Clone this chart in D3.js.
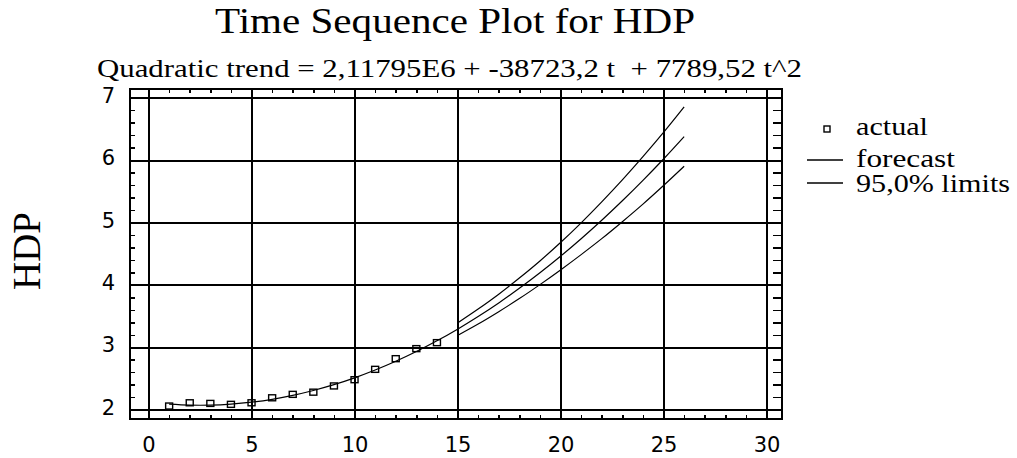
<!DOCTYPE html>
<html><head><meta charset="utf-8">
<script src="https://cdn.jsdelivr.net/npm/d3@7"></script>
<style>body{margin:0;background:#fff}svg{display:block}</style>
</head><body>
<svg id="chart" width="1017" height="458"></svg>
<script>
// ---- data ----
const actualT = [1,2,3,4,5,6,7,8,9,10,11,12,13,14];
const actualValues = [2.058,2.110,2.100,2.085,2.110,2.190,2.245,2.280,2.380,2.480,2.646,2.817,2.978,3.074];
const forecastT = [1,2,3,4,5,6,7,8,9,10,11,12,13,14,15,16,17,18,19,20,21,22,23,24,25,26];
const forecastValues = [2.087,2.072,2.072,2.088,2.119,2.166,2.229,2.307,2.400,2.510,2.635,2.775,2.931,3.103,3.290,3.493,3.711,3.945,4.194,4.459,4.740,5.036,5.348,5.675,6.018,6.377];
const limitT = [15,16,17,18,19,20,21,22,23,24,25,26];
const upperLimits = [3.390,3.613,3.851,4.110,4.384,4.679,4.995,5.331,5.683,6.055,6.443,6.852];
const lowerLimits = [3.190,3.373,3.571,3.780,4.004,4.239,4.485,4.741,5.013,5.295,5.593,5.902];
const xTicks = [0,5,10,15,20,25,30];
const yTicks = [2,3,4,5,6,7];
const legendLabels = ["actual","forecast","95,0% limits"];
const titleText = "Time Sequence Plot for HDP";
const subtitleText = "Quadratic trend = 2,11795E6 + -38723,2 t  + 7789,52 t^2";
const yLabelText = "HDP";

// ---- layout ----
const L = 130, R = 782, T = 89, B = 419;
const svg = d3.select("#chart");
const x = d3.scaleLinear().domain([-0.9, 30.75]).range([L, R]);
const y = d3.scaleLinear().domain([1.85, 7.14]).range([B, T]);
const serif = "'Liberation Serif','Times New Roman',serif";
const sans = "'DejaVu Sans',sans-serif";

function styleAxis(g, w) {
  g.select(".domain").remove();
  g.selectAll(".tick line").attr("stroke", "#000").attr("stroke-width", w).attr("shape-rendering","crispEdges");
}

// gridlines
svg.append("g").attr("transform", `translate(0,${B})`)
  .call(d3.axisBottom(x).tickValues(xTicks).tickSize(-(B - T)).tickFormat(""))
  .call(g => styleAxis(g, 2));
svg.append("g").attr("transform", `translate(${L},0)`)
  .call(d3.axisLeft(y).tickValues(yTicks).tickSize(-(R - L)).tickFormat(""))
  .call(g => styleAxis(g, 2));

// minor ticks
const xMinor = d3.range(0, 31, 1);
const yMinor = d3.range(2, 7.01, 0.2);
svg.append("g").attr("transform", `translate(0,${B})`)
  .call(d3.axisBottom(x).tickValues(xMinor).tickSize(-4).tickFormat("")).call(g => styleAxis(g, 1.5));
svg.append("g").attr("transform", `translate(0,${T})`)
  .call(d3.axisTop(x).tickValues(xMinor).tickSize(-4).tickFormat("")).call(g => styleAxis(g, 1.5));
svg.append("g").attr("transform", `translate(${L},0)`)
  .call(d3.axisLeft(y).tickValues(yMinor).tickSize(-5).tickFormat("")).call(g => styleAxis(g, 1.5));
svg.append("g").attr("transform", `translate(${R},0)`)
  .call(d3.axisRight(y).tickValues(yMinor).tickSize(-9).tickFormat("")).call(g => styleAxis(g, 1.5));

// frame
svg.append("rect").attr("x", L).attr("y", T).attr("width", R - L).attr("height", B - T)
  .attr("fill", "none").attr("stroke", "#000").attr("stroke-width", 2).attr("shape-rendering","crispEdges");

// tick labels
const xl = svg.append("g").attr("transform", `translate(0,${B + 18})`)
  .call(d3.axisBottom(x).tickValues(xTicks).tickSize(0).tickPadding(0).tickFormat(d3.format("d")));
xl.select(".domain").remove();
xl.selectAll("text").attr("font-family", sans).attr("font-size", 21).attr("fill", "#000").attr("dy", "0.71em");
const yl = svg.append("g").attr("transform", `translate(${L - 15},0)`)
  .call(d3.axisLeft(y).tickValues(yTicks).tickSize(0).tickPadding(0).tickFormat(d3.format("d")));
yl.select(".domain").remove();
yl.selectAll("text").attr("font-family", sans).attr("font-size", 21).attr("fill", "#000").attr("dy", "0.22em");

// lines
const line = d3.line().x(d => x(d[0])).y(d => y(d[1])).curve(d3.curveCatmullRom);
const lineStyle = p => p.attr("fill", "none").attr("stroke", "#000").attr("stroke-width", 1.2);
svg.append("path").datum(forecastT.map((t, i) => [t, forecastValues[i]])).attr("d", line).call(lineStyle);
svg.append("path").datum(limitT.map((t, i) => [t, upperLimits[i]])).attr("d", line).call(lineStyle);
svg.append("path").datum(limitT.map((t, i) => [t, lowerLimits[i]])).attr("d", line).call(lineStyle);

// actual points
svg.append("g").selectAll("rect").data(actualT.map((t, i) => [t, actualValues[i]])).join("rect")
  .attr("x", d => x(d[0]) - 3.5).attr("y", d => y(d[1]) - 3)
  .attr("width", 7).attr("height", 6)
  .attr("fill", "none").attr("stroke", "#000").attr("stroke-width", 1.4);

// titles
svg.append("text").attr("x", 455).attr("y", 33).attr("text-anchor", "middle")
  .attr("font-family", serif).attr("font-size", 35).attr("textLength", 480).attr("lengthAdjust", "spacingAndGlyphs")
  .text(titleText);
svg.append("text").attr("x", 97).attr("y", 77)
  .attr("font-family", serif).attr("font-size", 25).attr("textLength", 705).attr("lengthAdjust", "spacingAndGlyphs")
  .style("white-space", "pre").text(subtitleText);
svg.append("text").attr("transform", "translate(40,251) rotate(-90)").attr("text-anchor", "middle")
  .attr("font-family", serif).attr("font-size", 39).text(yLabelText);

// legend
const lg = svg.append("g");
lg.append("rect").attr("x", 824).attr("y", 126).attr("width", 6).attr("height", 6)
  .attr("fill", "none").attr("stroke", "#000").attr("stroke-width", 1.4);
lg.append("line").attr("x1", 807).attr("x2", 843).attr("y1", 160).attr("y2", 160).attr("stroke", "#000").attr("stroke-width", 1.4);
lg.append("line").attr("x1", 807).attr("x2", 843).attr("y1", 183).attr("y2", 183).attr("stroke", "#000").attr("stroke-width", 1.4);
const legY = [135, 167, 192];
const legW = [72, 99, 154];
legendLabels.forEach((lab, i) => {
  lg.append("text").attr("x", 856).attr("y", legY[i]).attr("font-family", serif).attr("font-size", 25)
    .attr("textLength", legW[i]).attr("lengthAdjust", "spacingAndGlyphs").text(lab);
});
</script>
</body></html>
